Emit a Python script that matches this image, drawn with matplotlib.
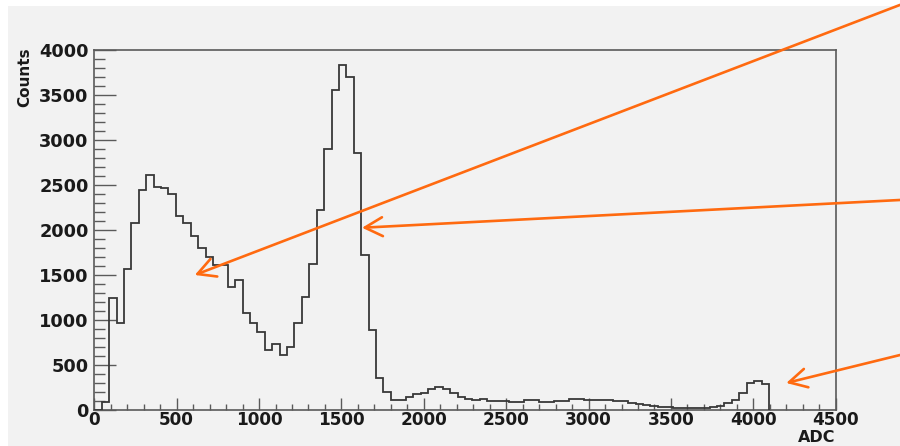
import numpy as np
import matplotlib
matplotlib.use("Agg")
import matplotlib.pyplot as plt
from matplotlib.ticker import MultipleLocator
from matplotlib.patches import Rectangle

# ---------------- data ----------------
bin_width = 45  # ADC units per bin
counts = [
    0, 90, 1240, 965, 1565, 2075, 2450, 2610, 2480, 2470,
    2405, 2155, 2075, 1935, 1795, 1705, 1610, 1610, 1370, 1445,
    1080, 965, 870, 665, 730, 610, 705, 970, 1260, 1620,
    2220, 2905, 3555, 3835, 3695, 2860, 1720, 890, 360,
    200, 112, 112, 148, 178, 186, 230, 258, 230, 186, 148, 125,
    110, 122, 104, 104, 95, 92, 92, 111, 111, 92,
    92, 104, 104, 122, 122, 111, 111, 111, 111, 100, 100,
    75, 65, 56, 50, 37, 35, 26, 26, 26, 26, 26, 37, 45, 75,
    111, 193, 297, 323, 290,
]
x_ticks = [0, 500, 1000, 1500, 2000, 2500, 3000, 3500, 4000, 4500]
y_ticks = [0, 500, 1000, 1500, 2000, 2500, 3000, 3500, 4000]
x_label = "ADC"
y_label = "Counts"
# arrow tips in data coordinates (ADC, Counts) and tails in figure fraction
arrow_tips = [(610, 1500), (1625, 2025), (4200, 300)]
arrow_tails = [(1.0, 0.989), (1.0, 0.5516), (1.0, 0.204)]

# ---------------- figure ----------------
W, H = 900, 446
fig = plt.figure(figsize=(W / 100, H / 100), dpi=100, facecolor="white")
bg = "#f2f2f2"
fig.patches.append(Rectangle((8 / W, 0), 1 - 8 / W, (H - 6) / H,
                             transform=fig.transFigure, facecolor=bg,
                             edgecolor="none", zorder=-10))

ax = fig.add_axes([94.3 / W, (H - 410) / H, (835.7 - 94.3) / W, 360 / H])
ax.set_facecolor(bg)

edges = np.arange(len(counts) + 1) * bin_width
ax.stairs(counts, edges, baseline=0, color="#383838", lw=1.3, zorder=3)

ax.set_xlim(x_ticks[0], x_ticks[-1])
ax.set_ylim(y_ticks[0], y_ticks[-1])

for s in ax.spines.values():
    s.set_color("#5a5a5a")
    s.set_linewidth(1.2)

ax.xaxis.set_major_locator(plt.FixedLocator(x_ticks))
ax.yaxis.set_major_locator(plt.FixedLocator(y_ticks))
ax.xaxis.set_minor_locator(MultipleLocator(100))
ax.yaxis.set_minor_locator(MultipleLocator(100))

ax.tick_params(axis="y", which="major", direction="in", length=15.8, width=1.0,
               color="#5a5a5a", pad=4)
ax.tick_params(axis="y", which="minor", direction="in", length=8, width=1.0,
               color="#5a5a5a")
ax.tick_params(axis="x", which="major", direction="in", length=8.4, width=1.0,
               color="#5a5a5a", pad=1.0)
ax.tick_params(axis="x", which="minor", direction="in", length=4.2, width=1.0,
               color="#5a5a5a")

yfont = dict(family="DejaVu Sans", weight="bold", size=12.8)
xfont = dict(family="DejaVu Sans", weight="bold", size=12.2)
ax.set_xticklabels([str(v) for v in x_ticks], fontdict=xfont, color="#1a1a1a")
ax.set_yticklabels([str(v) for v in y_ticks], fontdict=yfont, color="#1a1a1a")

ax.text((25 - 94.3) / 741.4, 1.008, y_label, transform=ax.transAxes,
        rotation=90, ha="center", va="top", family="DejaVu Sans",
        weight="bold", size=11, color="#1a1a1a")
ax.text(1.0, (410 - 445.5) / 360, x_label, transform=ax.transAxes, ha="right",
        va="bottom", family="DejaVu Sans", weight="bold", size=11.5,
        color="#1a1a1a", clip_on=False)

orange = "#ff6a10"
for tip, tail in zip(arrow_tips, arrow_tails):
    ax.annotate("", xy=tip, xycoords="data", xytext=tail,
                textcoords="figure fraction", annotation_clip=False,
                arrowprops=dict(arrowstyle="->,head_length=1.27,head_width=0.68",
                                color=orange, lw=1.9, shrinkA=0, shrinkB=0,
                                mutation_scale=10), zorder=5)

fig.savefig("out.png", dpi=100, facecolor=fig.get_facecolor())
